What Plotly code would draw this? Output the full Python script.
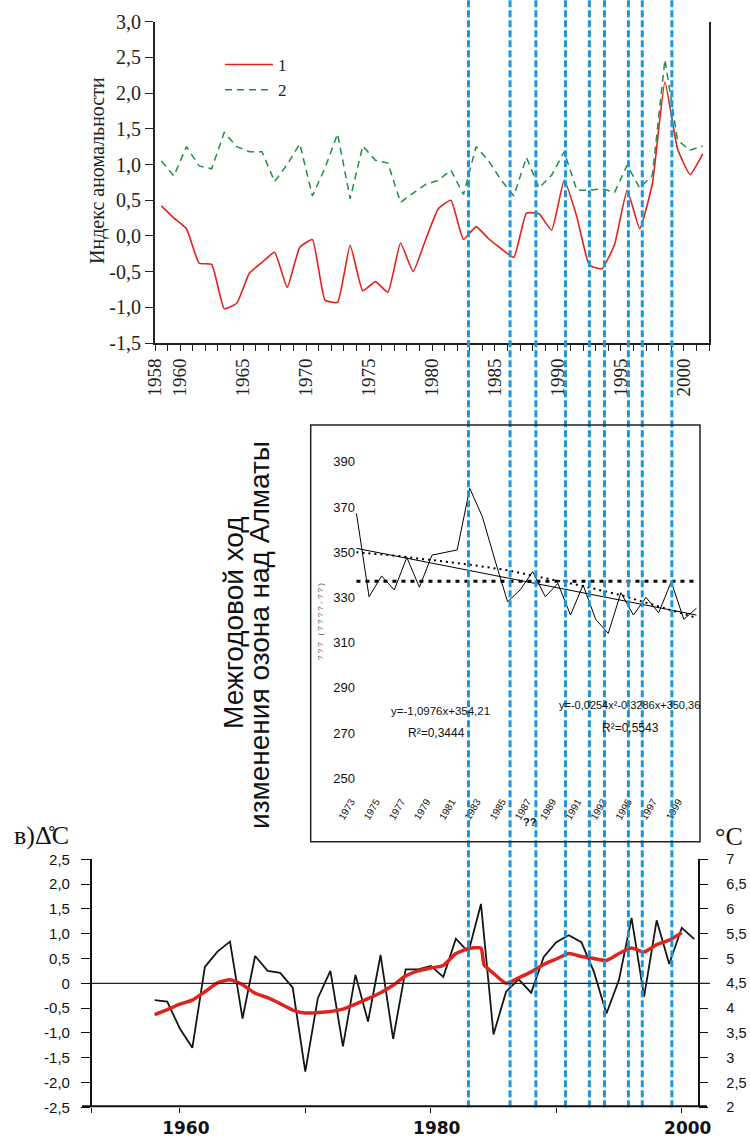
import plotly.graph_objects as go

W, H = 750, 1139

# ---------------- data ----------------
# Panel 1: anomaly index, 1958-2001
years_top = list(range(1958, 2002))
series1 = [0.42, 0.25, 0.10, -0.38, -0.40, -1.02, -0.94, -0.52, -0.37, -0.23,
           -0.72, -0.16, -0.05, -0.90, -0.93, -0.13, -0.77, -0.64, -0.79, -0.10,
           -0.50, -0.05, 0.38, 0.50, -0.05, 0.13, -0.04, -0.18, -0.30, 0.32,
           0.31, 0.08, 0.78, 0.27, -0.41, -0.46, -0.12, 0.64, 0.10, 0.73,
           2.16, 1.22, 0.86, 1.15]
series2 = [1.05, 0.84, 1.25, 0.98, 0.94, 1.45, 1.25, 1.18, 1.18, 0.76,
           1.00, 1.29, 0.56, 0.95, 1.43, 0.52, 1.26, 1.06, 1.02, 0.47,
           0.60, 0.72, 0.78, 0.92, 0.58, 1.25, 1.05, 0.78, 0.56, 1.10,
           0.67, 0.85, 1.18, 0.64, 0.64, 0.66, 0.61, 0.99, 0.67, 0.85,
           2.47, 1.34, 1.20, 1.26]
top_label_years = [1958, 1960, 1965, 1970, 1975, 1980, 1985, 1990, 1995, 2000]
top_y_ticks = [-1.5, -1.0, -0.5, 0.0, 0.5, 1.0, 1.5, 2.0, 2.5, 3.0]
top_y_text = ["-1,5", "-1,0", "-0,5", "0,0", "0,5", "1,0", "1,5", "2,0", "2,5", "3,0"]

# Event years (blue dashed verticals)
event_years = [1982.9, 1986.2, 1988.25, 1990.6, 1992.5, 1993.7, 1995.6, 1996.7, 1999.05]

# Panel 2: ozone over Almaty
ozone_years = list(range(1974, 2002))
ozone = [367.2, 330.3, 339.5, 333.3, 347.7, 334.5, 348.7, 349.8, 351.0, 378.2,
         365.7, 346.5, 328.1, 333.3, 341.4, 330.3, 336.2, 322.2, 335.5, 320.3,
         314.1, 332.1, 322.2, 330.0, 323.2, 336.9, 320.3, 325.2]
lin_years = [1974, 2001]
lin_vals = [351.7, 322.2]
poly_years = [1974, 1977, 1980, 1983, 1986, 1989, 1992, 1995, 1998, 2001]
poly_vals = [350.0, 348.5, 346.5, 344.5, 342.0, 338.5, 335.0, 331.0, 326.0, 321.0]
ozone_mean = 337.1
ozone_ticks = [250, 270, 290, 310, 330, 350, 370, 390]
ozone_xticks = list(range(1973, 2000, 2))

# Panel 3: temperature anomaly
years_bot = list(range(1958, 2002))
temp_anom = [-0.34, -0.37, -0.91, -1.30, 0.33, 0.64, 0.84, -0.71, 0.55, 0.25,
             0.21, -0.09, -1.78, -0.30, 0.25, -1.27, 0.17, -0.77, 0.57, -1.12,
             0.28, 0.28, 0.35, 0.13, 0.90, 0.63, 1.60, -1.03, -0.17, 0.08,
             -0.19, 0.53, 0.83, 0.97, 0.83, 0.23, -0.61, 0.07, 1.32, -0.27,
             1.27, 0.39, 1.12, 0.89]
smooth_years = list(range(1958, 1985)) + [1984.25] + list(range(1985, 2001))
smooth_vals = [-0.63, -0.53, -0.42, -0.34, -0.17, 0.01, 0.07, -0.03, -0.20, -0.29,
               -0.41, -0.54, -0.60, -0.59, -0.57, -0.52, -0.42, -0.31, -0.19, -0.04,
               0.15, 0.25, 0.31, 0.36, 0.60, 0.70, 0.71, 0.37, 0.20, 0.00,
               0.11, 0.23, 0.38, 0.49, 0.60, 0.54, 0.50, 0.46, 0.60, 0.71,
               0.63, 0.78, 0.87, 1.02]
left_ticks = [-2.5, -2.0, -1.5, -1.0, -0.5, 0, 0.5, 1.0, 1.5, 2.0, 2.5]
left_text = ["-2,5", "-2,0", "-1,5", "-1,0", "-0,5", "0", "0,5", "1,0", "1,5", "2,0", "2,5"]
right_ticks = [2, 2.5, 3, 3.5, 4, 4.5, 5, 5.5, 6, 6.5, 7]
right_text = ["2", "2,5", "3", "3,5", "4", "4,5", "5", "5,5", "6", "6,5", "7"]
bot_label_years = [1960, 1980, 2000]
bot_tick_years = [1960, 1970, 1980, 1990, 2000]


def px(p):
    return p / W


def py(p):
    return 1 - p / H


SERIF = "Liberation Serif"
SANS = "Liberation Sans"
NARROW = "Liberation Sans Narrow, Liberation Sans"

fig = go.Figure()

# ---- panel 1 ----
xc = [y + 0.5 for y in years_top]
fig.add_trace(go.Scatter(x=xc, y=series1, mode="lines", name="1",
                         line=dict(color="#e3201b", width=1.6, shape="spline", smoothing=0.4),
                         xaxis="x", yaxis="y"))
fig.add_trace(go.Scatter(x=xc, y=series2, mode="lines", name="2",
                         line=dict(color="#1b9044", width=1.5, dash="7px,5px"),
                         xaxis="x", yaxis="y"))

# ---- panel 2 ----
fig.add_trace(go.Scatter(x=ozone_years, y=ozone, mode="lines", showlegend=False,
                         line=dict(color="black", width=1), xaxis="x2", yaxis="y2"))
fig.add_trace(go.Scatter(x=lin_years, y=lin_vals, mode="lines", showlegend=False,
                         line=dict(color="black", width=1), xaxis="x2", yaxis="y2"))
fig.add_trace(go.Scatter(x=poly_years, y=poly_vals, mode="lines", showlegend=False,
                         line=dict(color="black", width=2, dash="2px,4px"), xaxis="x2", yaxis="y2"))
fig.add_trace(go.Scatter(x=[ozone_years[0], ozone_years[-1]], y=[ozone_mean, ozone_mean],
                         mode="lines", showlegend=False,
                         line=dict(color="black", width=3, dash="4px,5px"), xaxis="x2", yaxis="y2"))

# ---- panel 3 ----
fig.add_trace(go.Scatter(x=years_bot, y=temp_anom, mode="lines", showlegend=False,
                         line=dict(color="#151515", width=1.8), xaxis="x3", yaxis="y3"))
fig.add_trace(go.Scatter(x=smooth_years, y=smooth_vals, mode="lines", showlegend=False,
                         line=dict(color="#e0231c", width=3.5, shape="spline", smoothing=0.5),
                         xaxis="x3", yaxis="y3"))
# invisible trace to activate right axis
fig.add_trace(go.Scatter(x=[years_bot[0]], y=[right_ticks[0]], mode="markers", showlegend=False,
                         marker=dict(opacity=0), hoverinfo="skip", xaxis="x3", yaxis="y4"))

shapes = []
for ev in event_years:
    shapes.append(dict(type="line", xref="x", yref="paper", x0=ev, x1=ev,
                       y0=py(1107.3), y1=1, layer="above",
                       line=dict(color="#1c97dd", width=3, dash="7px,3px")))
# ozone frame
shapes.append(dict(type="rect", xref="paper", yref="paper", x0=px(310.7), x1=px(700),
                   y0=py(841.7), y1=py(425), line=dict(color="#222", width=1.5)))
# zero line panel 3
shapes.append(dict(type="line", xref="paper", yref="y3", x0=px(91.7), x1=px(710),
                   y0=0, y1=0, line=dict(color="#222", width=1.2)))
# thick base line panel 3
shapes.append(dict(type="line", xref="paper", yref="y3", x0=px(82), x1=px(707),
                   y0=left_ticks[0], y1=left_ticks[0], line=dict(color="#111", width=4)))


def note(text, x, y, size, family=SANS, angle=0, xanchor="center", color="#111", weight="normal"):
    return dict(text=text, x=px(x), y=py(y), xref="paper", yref="paper",
                xanchor=xanchor, yanchor="middle", textangle=angle, showarrow=False,
                font=dict(family=family, size=size, color=color, weight=weight))


ann = [
    note("Индекс аномальности", 98, 170, 20, SERIF, -90, color="#222"),
    note("Межгодовой ход", 233, 622, 28, SANS, -90),
    note("изменения озона над Алматы", 259, 635, 28, SANS, -90),
    note("? ? ?   ( ? ? ? ? - ? ? )", 320, 622, 8, SANS, -90, color="#555"),
    note("y=-1,0976x+354,21", 440, 711, 11.5, NARROW),
    note("R²=0,3444", 436, 733, 12, NARROW),
    note("y=-0,0254x²-0,3286x+350,36", 629, 705, 11, NARROW),
    note("R²=0,5543", 630, 728, 12, NARROW),
    note("??", 530, 822, 11, SANS, weight="bold"),
    note("в)Δ̊C", 12, 835, 26, SERIF, xanchor="left"),
    note("°C", 713, 836, 26, SERIF, xanchor="left"),
]

fig.update_layout(
    width=W, height=H, template="none",
    paper_bgcolor="white", plot_bgcolor="rgba(0,0,0,0)",
    margin=dict(l=0, r=0, t=0, b=0),
    font=dict(family=SANS, color="#111"),
    showlegend=True,
    legend=dict(x=px(220), y=py(47), xanchor="left", yanchor="top",
                bgcolor="rgba(0,0,0,0)", font=dict(family=SERIF, size=17, color="#222"),
                itemwidth=48, tracegroupgap=0),
    shapes=shapes, annotations=ann,
    xaxis=dict(domain=[px(155), px(709)], range=[1958, 2002], anchor="y",
               tickvals=years_top + [2002],
               ticktext=[str(y) if y in top_label_years else "" for y in years_top] + [""],
               ticks="outside", ticklen=6, tickwidth=1.2, tickcolor="#222",
               tickangle=-90, tickfont=dict(family=SERIF, size=19, color="#222"),
               showline=True, linewidth=2, linecolor="#222", showgrid=False, zeroline=False,
               automargin=False),
    yaxis=dict(domain=[py(343), py(21.7)], range=[-1.5, 3.0], anchor="x",
               tickvals=top_y_ticks, ticktext=top_y_text,
               ticks="outside", ticklen=8, tickwidth=1.2, tickcolor="#222",
               tickfont=dict(family=SERIF, size=20, color="#222"),
               showline=True, linewidth=2, linecolor="#222", mirror=True,
               showgrid=False, zeroline=False, automargin=False),
    xaxis2=dict(domain=[px(155), px(709)], range=[1958, 2002], anchor="y2",
                tickvals=ozone_xticks, ticktext=[str(y) for y in ozone_xticks],
                ticks="", tickangle=-60, ticklabelshift=7,
                tickfont=dict(family=SANS, size=10, color="#111"),
                showline=False, showgrid=False, zeroline=False, automargin=False),
    yaxis2=dict(domain=[py(793), py(445)], range=[243.5, 397.4], anchor="free", position=px(355),
                tickvals=ozone_ticks, ticktext=[str(v) for v in ozone_ticks], ticks="",
                tickfont=dict(family=NARROW, size=13, color="#111"),
                showline=False, showgrid=False, zeroline=False, automargin=False),
    xaxis3=dict(domain=[px(91.7), px(697.7)], range=[1952.98, 2001.27], anchor="y3",
                tickvals=[1952.98] + bot_tick_years,
                ticktext=[""] + [str(y) if y in bot_label_years else "" for y in bot_tick_years],
                ticks="outside", ticklen=5, tickwidth=1.2, tickcolor="#111", ticklabelshift=6,
                tickfont=dict(family="DejaVu Sans", size=17, color="#111", weight="bold"),
                showline=False, showgrid=False, zeroline=False, automargin=False),
    yaxis3=dict(domain=[py(1107.3), py(859.3)], range=[-2.5, 2.5], anchor="x3",
                tickvals=left_ticks, ticktext=left_text,
                ticks="outside", ticklen=9, tickwidth=1.2, tickcolor="#111", ticklabelstandoff=8,
                tickfont=dict(family=SANS, size=15, color="#111"),
                showline=True, linewidth=1.5, linecolor="#111",
                showgrid=False, zeroline=False, automargin=False),
    yaxis4=dict(overlaying="y3", side="right", anchor="x3", range=[2, 7],
                tickvals=right_ticks, ticktext=right_text,
                ticks="outside", ticklen=9, tickwidth=1.2, tickcolor="#111", ticklabelstandoff=15,
                tickfont=dict(family=SANS, size=14.5, color="#111"),
                showline=True, linewidth=1.5, linecolor="#111",
                showgrid=False, zeroline=False, automargin=False),
)

fig.write_html(
    "out.html",
    config={"displayModeBar": False},
    post_script=("document.body.style.margin='0';"
                 "document.body.style.overflow='hidden';"
                 "document.documentElement.style.overflow='hidden';"),
)
